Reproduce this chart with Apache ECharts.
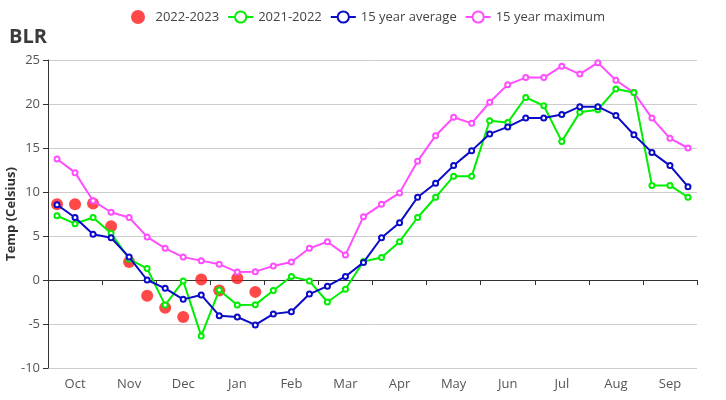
<!DOCTYPE html>
<html>
<head>
<meta charset="utf-8">
<script src="https://cdn.jsdelivr.net/npm/echarts@6/dist/echarts.min.js"></script>
<style>html,body{margin:0;padding:0;background:#fff}#c{width:726px;height:400px}</style>
</head>
<body>
<div id="c"></div>
<script>
var months = ['Oct','Nov','Dec','Jan','Feb','Mar','Apr','May','Jun','Jul','Aug','Sep'];
var dekads = [];
months.forEach(function (m) { dekads.push(m + '-1', m + '-2', m + '-3'); });

var yTicks = { min: -10, max: 25, interval: 5 };

var cur2223 = [8.6, 8.6, 8.7, 6.1, 2.05, -1.8, -3.15, -4.2, 0.05, -1.2, 0.2, -1.35,
  null, null, null, null, null, null, null, null, null, null, null, null,
  null, null, null, null, null, null, null, null, null, null, null, null];
var prev2122 = [7.3, 6.4, 7.1, 5.3, 2.4, 1.3, -2.85, -0.1, -6.35, -1.15, -2.85, -2.8,
  -1.2, 0.4, -0.1, -2.5, -1.05, 2.1, 2.55, 4.35, 7.1, 9.4, 11.8, 11.8,
  18.1, 17.9, 20.75, 19.8, 15.75, 19.05, 19.35, 21.7, 21.3, 10.75, 10.75, 9.4];
var avg15 = [8.55, 7.1, 5.2, 4.8, 2.6, 0.0, -0.95, -2.2, -1.7, -4.05, -4.2, -5.1,
  -3.85, -3.6, -1.6, -0.7, 0.4, 2.0, 4.8, 6.5, 9.4, 11.0, 13.0, 14.7,
  16.6, 17.4, 18.4, 18.4, 18.8, 19.7, 19.7, 18.7, 16.5, 14.5, 13.0, 10.6];
var max15 = [13.75, 12.2, 9.0, 7.7, 7.1, 4.9, 3.6, 2.6, 2.2, 1.8, 0.9, 0.95,
  1.6, 2.05, 3.6, 4.35, 2.85, 7.2, 8.6, 9.9, 13.5, 16.4, 18.5, 17.8,
  20.2, 22.2, 23.0, 23.0, 24.3, 23.4, 24.7, 22.7, 21.3, 18.4, 16.1, 15.0];

var chart = echarts.init(document.getElementById('c'), null, { renderer: 'canvas' });
var textFont = 'Open Sans';
chart.setOption({
  animation: false,
  title: {
    text: 'BLR', left: 4, top: 22,
    textStyle: { fontSize: 20, fontWeight: 'bold', color: '#3a3a3a', fontFamily: textFont }
  },
  legend: {
    top: 5, left: 126, itemGap: 8, itemWidth: 25, itemHeight: 14,
    textStyle: { fontSize: 13, color: '#444', fontFamily: textFont },
    data: ['2022-2023', '2021-2022', '15 year average', '15 year maximum']
  },
  grid: { left: 48, right: 29, top: 60, bottom: 32, outerBoundsMode: 'none', containLabel: false },
  xAxis: [{
    type: 'category', data: dekads, boundaryGap: true, position: 'bottom',
    axisLine: { show: false, onZero: false },
    axisTick: { show: false },
    axisLabel: {
      interval: function (i) { return i % 3 === 1; },
      formatter: function (v) { return v.split('-')[0]; },
      fontSize: 13, color: '#555', fontFamily: textFont, margin: 10
    },
    splitLine: { show: false }
  }, {
    type: 'category', data: dekads, boundaryGap: true, position: 'top',
    axisLine: { show: true, onZero: true, lineStyle: { color: '#333', width: 1 } },
    axisTick: { show: true, inside: true, interval: 2, length: 5, lineStyle: { color: '#333' } },
    axisLabel: { show: false },
    splitLine: { show: false }
  }],
  yAxis: {
    type: 'value', min: yTicks.min, max: yTicks.max, interval: yTicks.interval,
    name: 'Temp (Celsius)', nameLocation: 'middle', nameGap: 30, nameMoveOverlap: false,
    nameTextStyle: { fontSize: 13, fontWeight: 'bold', color: '#333', fontFamily: textFont },
    axisLine: { show: true, lineStyle: { color: '#333' } },
    axisTick: { show: true, length: 5, lineStyle: { color: '#333' } },
    axisLabel: { fontSize: 13, color: '#555', fontFamily: textFont, margin: 8 },
    splitLine: { lineStyle: { color: '#ccc' } }
  },
  series: [{
    name: '2022-2023', type: 'scatter', data: cur2223, symbolSize: 12, z: 1,
    itemStyle: { color: '#ff1a1a', opacity: 0.8 }
  }, {
    name: '2021-2022', type: 'line', data: prev2122, symbol: 'emptyCircle', symbolSize: 5, z: 3,
    lineStyle: { color: '#00ee00', width: 2 }, itemStyle: { color: '#00ee00', borderWidth: 1.5 }
  }, {
    name: '15 year average', type: 'line', data: avg15, symbol: 'emptyCircle', symbolSize: 5, z: 4,
    lineStyle: { color: '#0a0ac8', width: 2 }, itemStyle: { color: '#0a0ac8', borderWidth: 1.5 }
  }, {
    name: '15 year maximum', type: 'line', data: max15, symbol: 'emptyCircle', symbolSize: 5, z: 2,
    lineStyle: { color: '#ff4dff', width: 2 }, itemStyle: { color: '#ff4dff', borderWidth: 1.5 }
  }]
});
</script>
</body>
</html>
